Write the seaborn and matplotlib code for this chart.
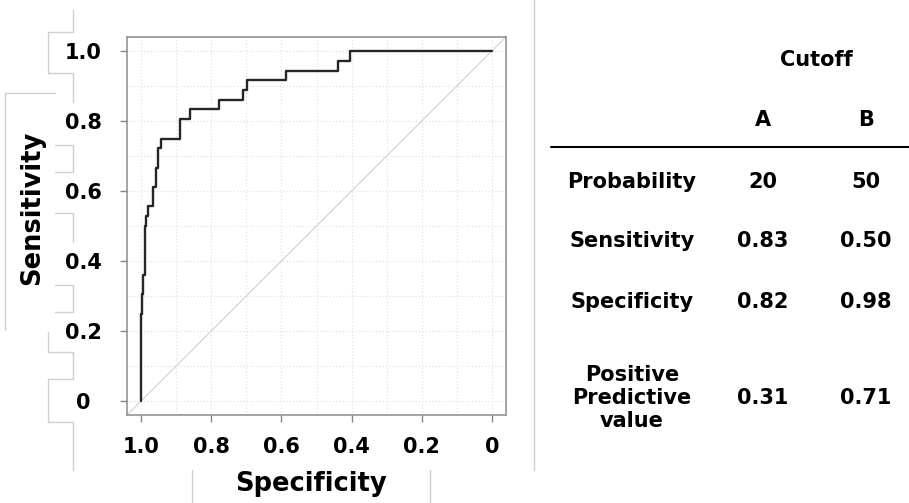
"""ROC curve with cutoff summary table."""

import matplotlib
matplotlib.use("Agg")
import matplotlib.pyplot as plt
import numpy as np
import pandas as pd
import seaborn as sns
from matplotlib.lines import Line2D
from matplotlib.ticker import MultipleLocator

W, H = 909, 503

# ROC step corners: specificity where the curve rises, sensitivity reached there
specificity = [1.000, 0.997, 0.993, 0.990, 0.987, 0.981, 0.967, 0.958, 0.952, 0.943,
               0.888, 0.861, 0.778, 0.710, 0.698, 0.586, 0.438, 0.405, 0.0]
sensitivity = [0.250, 0.306, 0.361, 0.500, 0.528, 0.556, 0.611, 0.667, 0.722, 0.750,
               0.806, 0.833, 0.861, 0.889, 0.917, 0.944, 0.972, 1.000, 1.000]

tick_values = [1.0, 0.8, 0.6, 0.4, 0.2, 0.0]
tick_labels = ["1.0", "0.8", "0.6", "0.4", "0.2", "0"]

col_labels = ["A", "B"]
row_labels = ["Probability", "Sensitivity", "Specificity", "Positive\nPredictive\nvalue"]
cutoff_a = ["20", "0.83", "0.82", "0.31"]
cutoff_b = ["50", "0.50", "0.98", "0.71"]

# light grey frame fragments around the left labels (pixel coords)
frame_bits = [
    [(73.3, 10), (73.3, 31.7), (48.3, 31.7), (48.3, 72.7), (73.3, 72.7), (73.3, 101.7)],
    [(55, 92.7), (5, 92.7), (5, 330)],
    [(55, 145), (73.3, 145), (73.3, 171.7), (55, 171.7)],
    [(55, 213.3), (73.3, 213.3), (73.3, 241.7)],
    [(55, 285), (73.3, 285), (73.3, 311.7), (55, 311.7)],
    [(48.3, 331.7), (48.3, 352), (73.3, 352), (73.3, 379.3), (48.3, 379.3),
     (48.3, 422), (73.3, 422), (73.3, 470)],
    [(191.7, 470), (191.7, 503)],
    [(430, 470), (430, 503)],
    [(533.5, 0), (533.5, 470)],
]


def fx(x):
    return x / W


def fy(y):
    return 1 - y / H


def main():
    sns.set_theme(style="white")
    plt.rcParams["font.family"] = ["DejaVu Sans"]
    plt.rcParams["text.color"] = "black"
    plt.rcParams["axes.labelcolor"] = "black"
    plt.rcParams["xtick.labelcolor"] = "black"
    plt.rcParams["ytick.labelcolor"] = "black"

    fig = plt.figure(figsize=(W / 100, H / 100), dpi=100)
    ax = fig.add_axes([fx(127), fy(415), (506 - 127) / W, (415 - 37) / H])

    xs = np.repeat(specificity, 2)
    ys = np.concatenate([[0.0], np.repeat(sensitivity, 2)])[:-1]
    roc = pd.DataFrame({"spec": xs, "sens": ys})

    ax.axline((1, 0), (0, 1), color="#d6d6d6", linewidth=0.9, zorder=1)
    sns.lineplot(data=roc, x="spec", y="sens", sort=False, estimator=None,
                 color="#262626", linewidth=1.7, ax=ax, zorder=3)

    ax.set_xlim(1.04, -0.04)
    ax.set_ylim(-0.04, 1.04)
    ax.set_xticks(tick_values)
    ax.set_xticklabels(tick_labels, fontsize=15, fontweight="bold", color="black")
    ax.set_yticks(tick_values)
    ax.set_yticklabels(tick_labels, fontsize=15, fontweight="bold", color="black")
    for lbl in ax.get_yticklabels():
        lbl.set_horizontalalignment("center")
    ax.xaxis.set_minor_locator(MultipleLocator(0.1))
    ax.yaxis.set_minor_locator(MultipleLocator(0.1))
    ax.grid(which="both", color="#e2e2e2", linestyle=":", linewidth=0.9)
    ax.tick_params(which="major", direction="out", length=5, width=1, color="#888888",
                   left=True, bottom=True)
    ax.tick_params(axis="y", pad=26.6)
    ax.tick_params(axis="x", pad=11)
    ax.tick_params(which="minor", length=0)
    for sp in ax.spines.values():
        sp.set_color("#8c8c8c")
        sp.set_linewidth(1.1)

    ax.set_xlabel("Specificity", fontsize=18.5, fontweight="bold", va="center", color="black")
    ax.set_ylabel("Sensitivity", fontsize=18.5, fontweight="bold", va="center", color="black")
    ax.xaxis.set_label_coords((310.7 - 127) / 379, -(484 - 415) / 378)
    ax.yaxis.set_label_coords((32.5 - 127) / 379, (415 - 207.5) / 378)

    # summary table
    tkw = dict(fontsize=15, fontweight="bold", ha="center", va="center", color="black")
    fig.text(fx(816), fy(60), "Cutoff", **tkw)
    col_x = [763, 866]
    for cx, lab in zip(col_x, col_labels):
        fig.text(fx(cx), fy(120), lab, **tkw)
    fig.add_artist(Line2D([fx(551), fx(909)], [fy(147), fy(147)], color="black",
                          linewidth=1.5, transform=fig.transFigure))
    row_y = [181.7, 241, 301.5, 398]
    for ry, lab, a, b in zip(row_y, row_labels, cutoff_a, cutoff_b):
        fig.text(fx(632), fy(ry), lab, linespacing=1.2, **tkw)
        fig.text(fx(col_x[0]), fy(ry), a, **tkw)
        fig.text(fx(col_x[1]), fy(ry), b, **tkw)

    for path in frame_bits:
        px = [fx(p[0]) for p in path]
        py = [fy(p[1]) for p in path]
        fig.add_artist(Line2D(px, py, color="#cfcfcf", linewidth=1.0,
                              transform=fig.transFigure))

    fig.savefig("out.png", dpi=100)
    plt.close(fig)


if __name__ == "__main__":
    main()
